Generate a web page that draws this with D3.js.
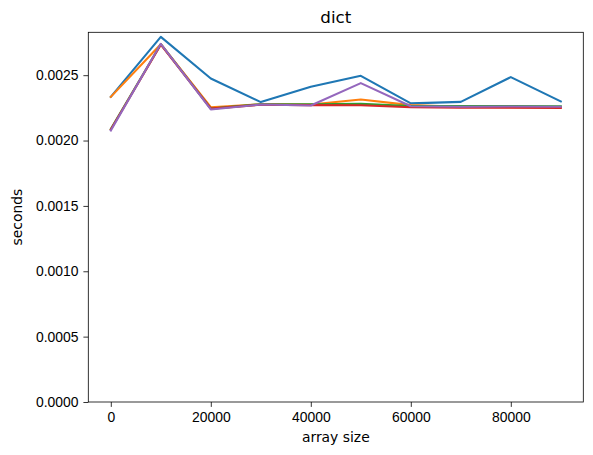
<!DOCTYPE html>
<html>
<head>
<meta charset="utf-8">
<script src="https://cdn.jsdelivr.net/npm/d3@7"></script>
<style>
  html, body { margin: 0; padding: 0; background: #fff; }
  svg { display: block; font-family: "DejaVu Sans", sans-serif; }
  .axis path, .axis line { stroke: #000; stroke-width: 0.8; }
  .axis text { font-size: 13.9px; fill: #000; }
</style>
</head>
<body>
<svg id="chart" width="593" height="455"></svg>
<script>
'use strict';

// array sizes on the x axis
const sizes = [0, 10000, 20000, 30000, 40000, 50000, 60000, 70000, 80000, 90000];

// timings per run
const run1 = [0.002334, 0.002793, 0.002475, 0.002294, 0.002411, 0.002495, 0.002284, 0.002296, 0.002485, 0.002299];
const run2 = [0.002334, 0.002737, 0.002255, 0.002278, 0.002276, 0.002314, 0.002271, 0.002259, 0.002255, 0.002255];
const run3 = [0.002088, 0.002737, 0.002244, 0.002278, 0.002278, 0.002281, 0.002263, 0.002263, 0.002263, 0.002262];
const run4 = [0.002085, 0.002733, 0.002244, 0.002274, 0.002271, 0.002270, 0.002255, 0.002252, 0.002252, 0.002250];
const run5 = [0.002077, 0.002740, 0.002238, 0.002276, 0.002268, 0.002439, 0.002262, 0.002259, 0.002260, 0.002259];

const xTicks = [0, 20000, 40000, 60000, 80000];
const yTicks = [0, 0.0005, 0.001, 0.0015, 0.002, 0.0025];

const runs = [run1, run2, run3, run4, run5];
const colors = ['#1f77b4', '#ff7f0e', '#2ca02c', '#d62728', '#9467bd'];

const box = {left: 88.3, right: 583.3, top: 32.3, bottom: 402};
const svg = d3.select('#chart');

const xScale = d3.scaleLinear()
    .domain([-4500, 94500])
    .range([box.left, box.right]);

const yScale = d3.scaleLinear()
    .domain([0, 0.002828])
    .range([box.bottom, box.top]);

const xAxis = d3.axisBottom(xScale)
    .tickValues(xTicks)
    .tickSize(4.9)
    .tickPadding(4.9)
    .tickFormat(d3.format('d'));

const yAxis = d3.axisLeft(yScale)
    .tickValues(yTicks)
    .tickSize(4.9)
    .tickPadding(4.9)
    .tickFormat(d3.format('.4f'));

const line = d3.line()
    .x((d, i) => xScale(sizes[i]))
    .y(d => yScale(d));

svg.append('g')
    .selectAll('path')
    .data(runs)
    .enter()
    .append('path')
    .attr('d', line)
    .attr('fill', 'none')
    .attr('stroke', (d, i) => colors[i])
    .attr('stroke-width', 2.1)
    .attr('stroke-linejoin', 'round')
    .attr('stroke-linecap', 'square');

svg.append('g')
    .attr('class', 'x axis')
    .attr('transform', `translate(0,${box.bottom})`)
    .call(xAxis)
    .call(g => g.select('.domain').remove());

svg.append('g')
    .attr('class', 'y axis')
    .attr('transform', `translate(${box.left},0)`)
    .call(yAxis)
    .call(g => g.select('.domain').remove());

// frame around the plot area
svg.append('rect')
    .attr('x', box.left)
    .attr('y', box.top)
    .attr('width', box.right - box.left)
    .attr('height', box.bottom - box.top)
    .attr('fill', 'none')
    .attr('stroke', '#000')
    .attr('stroke-width', 0.8);

svg.append('text')
    .attr('x', (box.left + box.right) / 2)
    .attr('y', 23.3)
    .attr('text-anchor', 'middle')
    .attr('font-size', '16.7px')
    .text('dict');

svg.append('text')
    .attr('x', (box.left + box.right) / 2)
    .attr('y', 442)
    .attr('text-anchor', 'middle')
    .attr('font-size', '13.9px')
    .text('array size');

svg.append('text')
    .attr('transform', `translate(22,${(box.top + box.bottom) / 2}) rotate(-90)`)
    .attr('text-anchor', 'middle')
    .attr('font-size', '13.9px')
    .text('seconds');
</script>
</body>
</html>
